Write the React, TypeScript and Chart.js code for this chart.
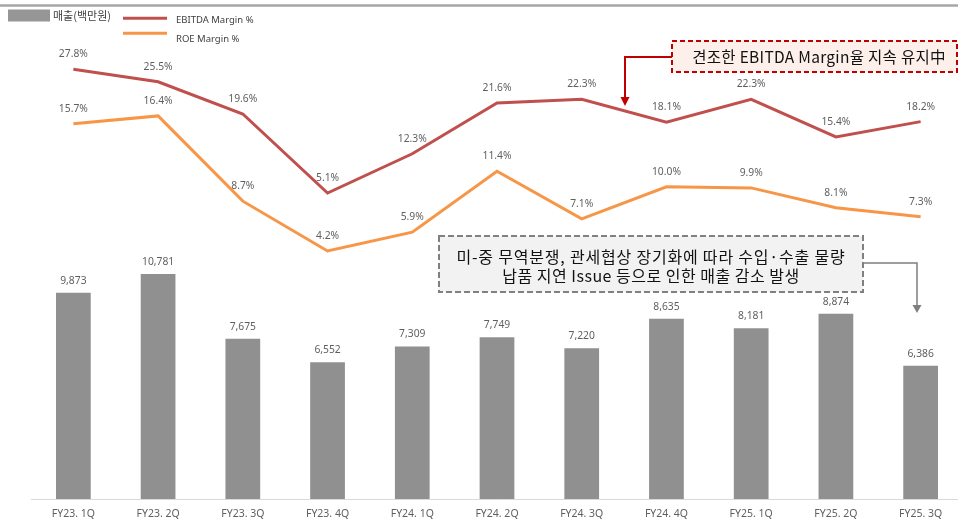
import React, { useEffect, useRef } from "react";
import { Chart, registerables } from "chart.js";

Chart.register(...registerables);

const categories = [
  "FY23. 1Q", "FY23. 2Q", "FY23. 3Q", "FY23. 4Q",
  "FY24. 1Q", "FY24. 2Q", "FY24. 3Q", "FY24. 4Q",
  "FY25. 1Q", "FY25. 2Q", "FY25. 3Q",
];
const sales = [9873, 10781, 7675, 6552, 7309, 7749, 7220, 8635, 8181, 8874, 6386];
const ebitdaMargin = [27.8, 25.5, 19.6, 5.1, 12.3, 21.6, 22.3, 18.1, 22.3, 15.4, 18.2];
const roeMargin = [15.7, 16.4, 8.7, 4.2, 5.9, 11.4, 7.1, 10.0, 9.9, 8.1, 7.3];

const salesLabel = "매출(백만원)";
const ebitdaLabel = "EBITDA Margin %";
const roeLabel = "ROE Margin %";
const noteRed = "견조한 EBITDA Margin율 지속 유지中";
const noteGray1 = "미-중 무역분쟁, 관세협상 장기화에 따라 수입·수출 물량";
const noteGray2 = "납품 지연 Issue 등으로 인한 매출 감소 발생";

const BAR_COLOR = "#909090";
const RED = "#C0504D";
const ORANGE = "#F79646";
const LABEL_COLOR = "#5f5f5f";
const KR = '"Noto Sans CJK KR", "Noto Sans", sans-serif';

const valueLabels = {
  id: "valueLabels",
  afterDatasetsDraw(chart: any) {
    const ctx = chart.ctx;
    ctx.save();
    ctx.fillStyle = LABEL_COLOR;
    ctx.textAlign = "center";
    ctx.textBaseline = "middle";
    ctx.font = '10.3px "Noto Sans", sans-serif';
    chart.data.datasets.forEach((ds: any, di: number) => {
      const meta = chart.getDatasetMeta(di);
      meta.data.forEach((el: any, i: number) => {
        const v = ds.data[i];
        let txt: string;
        let y: number;
        if (ds.type === "bar") {
          txt = v.toLocaleString("en-US");
          y = el.y - 12;
        } else {
          txt = v.toFixed(1) + "%";
          y = el.y - 15;
        }
        ctx.fillText(txt, el.x, y);
      });
    });
    ctx.restore();
  },
};

function arrowHead(ctx: any, x: number, tipY: number, color: string, half: number, len: number) {
  ctx.beginPath();
  ctx.moveTo(x, tipY);
  ctx.lineTo(x - half, tipY - len);
  ctx.lineTo(x + half, tipY - len);
  ctx.closePath();
  ctx.fillStyle = color;
  ctx.fill();
}

const decorations = {
  id: "decorations",
  afterDraw(chart: any) {
    const ctx = chart.ctx;
    ctx.save();
    // top rule
    ctx.strokeStyle = "#a6a6a6";
    ctx.lineWidth = 2.5;
    ctx.beginPath();
    ctx.moveTo(0, 5.5);
    ctx.lineTo(958, 5.5);
    ctx.stroke();

    // legend
    ctx.fillStyle = "#969696";
    ctx.fillRect(8, 9.5, 42, 12);
    ctx.fillStyle = "#404040";
    ctx.textBaseline = "middle";
    ctx.textAlign = "left";
    ctx.font = `11px ${KR}`;
    ctx.fillText(salesLabel, 53, 15.7);
    ctx.lineWidth = 3;
    ctx.strokeStyle = RED;
    ctx.beginPath();
    ctx.moveTo(123, 18.3);
    ctx.lineTo(167, 18.3);
    ctx.stroke();
    ctx.strokeStyle = ORANGE;
    ctx.beginPath();
    ctx.moveTo(123, 33.3);
    ctx.lineTo(167, 33.3);
    ctx.stroke();
    ctx.font = '9.5px "Noto Sans", sans-serif';
    ctx.fillText(ebitdaLabel, 176, 20.5);
    ctx.fillText(roeLabel, 176, 39.5);

    // red note box
    ctx.fillStyle = "#fdefe9";
    ctx.fillRect(672, 41, 285, 31);
    ctx.setLineDash([5, 3]);
    ctx.strokeStyle = "#c00000";
    ctx.lineWidth = 2;
    ctx.strokeRect(672, 41, 285, 31);
    ctx.setLineDash([]);
    ctx.fillStyle = "#111";
    ctx.textAlign = "center";
    ctx.font = `15.5px ${KR}`;
    (ctx as any).letterSpacing = "0.3px";
    ctx.fillText(noteRed, 819, 57);
    // red arrow
    (ctx as any).letterSpacing = "0px";
    ctx.strokeStyle = "#c00000";
    ctx.lineWidth = 2;
    ctx.beginPath();
    ctx.moveTo(672, 57);
    ctx.lineTo(625, 57);
    ctx.lineTo(625, 99);
    ctx.stroke();
    arrowHead(ctx, 625, 106, "#c00000", 4.5, 9);

    // gray note box
    ctx.fillStyle = "#f2f2f2";
    ctx.fillRect(439, 236, 424, 56);
    ctx.setLineDash([6, 3]);
    ctx.strokeStyle = "#808080";
    ctx.lineWidth = 2;
    ctx.strokeRect(439, 236, 424, 56);
    ctx.setLineDash([]);
    ctx.fillStyle = "#111";
    ctx.font = `16px ${KR}`;
    (ctx as any).letterSpacing = "0.8px";
    ctx.fillText(noteGray1, 651, 257);
    (ctx as any).letterSpacing = "0.5px";
    ctx.fillText(noteGray2, 651, 276);
    (ctx as any).letterSpacing = "0px";
    // gray arrow
    ctx.strokeStyle = "#7f7f7f";
    ctx.lineWidth = 1.5;
    ctx.beginPath();
    ctx.moveTo(864, 263);
    ctx.lineTo(917, 263);
    ctx.lineTo(917, 306);
    ctx.stroke();
    arrowHead(ctx, 917, 313, "#7f7f7f", 4.5, 8);
    ctx.restore();
  },
};

export default function App() {
  const canvasRef = useRef<HTMLCanvasElement | null>(null);

  useEffect(() => {
    if (!canvasRef.current) return;
    const chart = new Chart(canvasRef.current, {
      type: "bar",
      data: {
        labels: categories,
        datasets: [
          {
            type: "line",
            label: ebitdaLabel,
            data: ebitdaMargin,
            borderColor: RED,
            backgroundColor: RED,
            borderWidth: 3,
            pointRadius: 0,
            tension: 0,
            yAxisID: "yEbitda",
            order: 0,
          } as any,
          {
            type: "line",
            label: roeLabel,
            data: roeMargin,
            borderColor: ORANGE,
            backgroundColor: ORANGE,
            borderWidth: 3,
            pointRadius: 0,
            tension: 0,
            yAxisID: "yRoe",
            order: 1,
          } as any,
          {
            type: "bar",
            label: salesLabel,
            data: sales,
            backgroundColor: BAR_COLOR,
            barPercentage: 0.41,
            categoryPercentage: 1,
            yAxisID: "ySales",
            order: 2,
          } as any,
        ],
      },
      options: {
        animation: false,
        responsive: true,
        maintainAspectRatio: false,
        layout: { padding: { left: 31, right: 0, top: 0, bottom: 0 } },
        plugins: {
          legend: { display: false },
          tooltip: { enabled: false },
        },
        scales: {
          x: {
            type: "category",
            offset: true,
            grid: { display: true, drawOnChartArea: false, drawTicks: false, color: "rgba(0,0,0,0)" },
            border: { display: true, color: "#d9d9d9", width: 1 },
            ticks: {
              color: LABEL_COLOR,
              padding: 8.5,
              font: { size: 10.5, family: '"Noto Sans", sans-serif' },
              maxRotation: 0,
              autoSkip: false,
            },
            afterFit(scale: any) {
              scale.height = 20;
            },
          },
          ySales: { display: false, min: 0, max: 23900 },
          yEbitda: { display: false, min: -51, max: 40.5 },
          yRoe: { display: false, min: -18.2, max: 26.87 },
        },
      },
      plugins: [valueLabels, decorations],
    });
    return () => chart.destroy();
  }, []);

  return (
    <div style={{ position: "absolute", left: 0, top: 0, width: 958, height: 519, overflow: "hidden", background: "#fff" }}>
      <div style={{ position: "relative", width: 963, height: 519 }}>
        <canvas ref={canvasRef} />
      </div>
    </div>
  );
}
